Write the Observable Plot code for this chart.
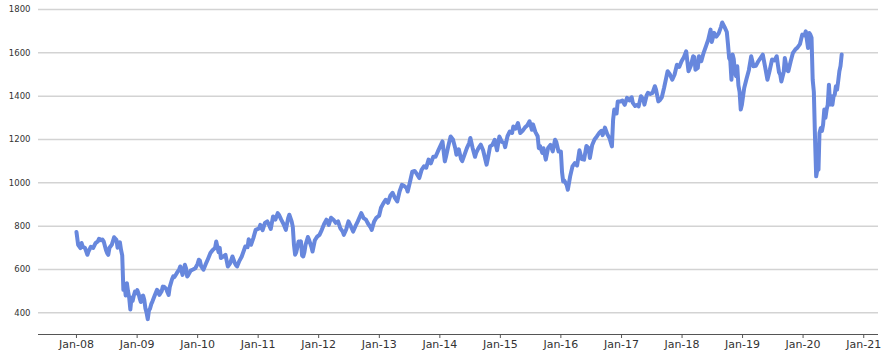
<!DOCTYPE html>
<html>
<head>
<meta charset="utf-8">
<script src="https://cdn.jsdelivr.net/npm/d3@7"></script>
<script src="https://cdn.jsdelivr.net/npm/@observablehq/plot@0.6"></script>
<style>
  html, body { margin: 0; padding: 0; background: #ffffff; }
  #chart svg { display: block; font-family: "DejaVu Sans", sans-serif; }
</style>
</head>
<body>
<div id="chart"></div>
<script>
const dates = [
"2008-01-01","2008-01-11","2008-01-25","2008-02-01","2008-02-08","2008-02-22","2008-03-07","2008-03-14","2008-03-28","2008-04-11","2008-04-25","2008-05-09","2008-05-16","2008-05-30","2008-06-06","2008-06-13","2008-06-27","2008-07-04","2008-07-11","2008-07-18","2008-08-01","2008-08-15","2008-08-29","2008-09-05","2008-09-19","2008-09-26","2008-10-03","2008-10-10","2008-10-17","2008-10-24","2008-10-31","2008-11-07","2008-11-14","2008-11-21","2008-11-28","2008-12-05","2008-12-12","2008-12-19","2008-12-26",
"2009-01-02","2009-01-09","2009-01-16","2009-01-23","2009-01-30","2009-02-06","2009-02-13","2009-02-20","2009-02-27","2009-03-06","2009-03-13","2009-03-20","2009-03-27","2009-04-03","2009-04-17","2009-05-01","2009-05-08","2009-05-15","2009-05-29","2009-06-05","2009-06-12","2009-06-26","2009-07-03","2009-07-10","2009-07-17","2009-07-31","2009-08-07","2009-08-14","2009-08-28","2009-09-11","2009-09-18","2009-09-25","2009-10-02","2009-10-16","2009-10-23","2009-10-30","2009-11-06","2009-11-20","2009-12-04","2009-12-18","2009-12-31",
"2010-01-08","2010-01-15","2010-01-22","2010-02-05","2010-02-19","2010-03-05","2010-03-19","2010-04-02","2010-04-16","2010-04-23","2010-05-07","2010-05-14","2010-05-21","2010-06-04","2010-06-18","2010-07-02","2010-07-16","2010-07-30","2010-08-13","2010-08-20","2010-08-27","2010-09-10","2010-09-24","2010-10-08","2010-10-15","2010-10-29","2010-11-05","2010-11-19","2010-12-03","2010-12-17",
"2011-01-07","2011-01-14","2011-01-28","2011-02-11","2011-02-25","2011-03-11","2011-03-18","2011-04-01","2011-04-15","2011-04-29","2011-05-06","2011-05-20","2011-06-03","2011-06-17","2011-07-01","2011-07-08","2011-07-22","2011-07-29","2011-08-05","2011-08-12","2011-08-19","2011-08-26","2011-09-02","2011-09-09","2011-09-16","2011-09-23","2011-09-30","2011-10-07","2011-10-14","2011-10-28","2011-11-04","2011-11-18","2011-11-25","2011-12-09","2011-12-23",
"2012-01-06","2012-01-20","2012-02-03","2012-02-17","2012-03-02","2012-03-16","2012-03-30","2012-04-13","2012-04-27","2012-05-11","2012-05-25","2012-06-01","2012-06-15","2012-06-29","2012-07-13","2012-07-27","2012-08-10","2012-08-24","2012-09-14","2012-09-28","2012-10-12","2012-10-26","2012-11-09","2012-11-16","2012-11-30","2012-12-14","2012-12-31",
"2013-01-11","2013-01-25","2013-02-08","2013-02-22","2013-03-08","2013-03-22","2013-04-05","2013-04-19","2013-05-03","2013-05-17","2013-05-31","2013-06-14","2013-06-21","2013-07-05","2013-07-19","2013-08-02","2013-08-16","2013-08-30","2013-09-13","2013-09-27","2013-10-11","2013-10-25","2013-11-08","2013-11-22","2013-12-06","2013-12-20",
"2014-01-03","2014-01-17","2014-01-31","2014-02-07","2014-02-21","2014-03-07","2014-03-21","2014-04-04","2014-04-11","2014-04-25","2014-05-09","2014-05-16","2014-05-30","2014-06-13","2014-06-27","2014-07-04","2014-07-18","2014-08-01","2014-08-08","2014-08-22","2014-09-05","2014-09-19","2014-10-03","2014-10-10","2014-10-17","2014-10-31","2014-11-14","2014-11-28","2014-12-12","2014-12-26",
"2015-01-09","2015-01-23","2015-01-30","2015-02-13","2015-02-27","2015-03-13","2015-03-20","2015-04-03","2015-04-17","2015-05-01","2015-05-15","2015-05-29","2015-06-12","2015-06-26","2015-07-10","2015-07-17","2015-07-31","2015-08-14","2015-08-21","2015-08-28","2015-09-11","2015-09-18","2015-10-02","2015-10-16","2015-10-30","2015-11-13","2015-11-27","2015-12-04","2015-12-18",
"2016-01-01","2016-01-08","2016-01-15","2016-01-22","2016-02-05","2016-02-12","2016-02-26","2016-03-11","2016-03-25","2016-04-08","2016-04-22","2016-05-06","2016-05-20","2016-06-03","2016-06-17","2016-06-24","2016-07-08","2016-07-22","2016-08-05","2016-08-19","2016-09-02","2016-09-09","2016-09-23","2016-10-07","2016-10-21","2016-11-04","2016-11-11","2016-11-18","2016-12-02","2016-12-09","2016-12-23",
"2017-01-06","2017-01-20","2017-02-03","2017-02-17","2017-03-03","2017-03-10","2017-03-24","2017-04-07","2017-04-14","2017-04-28","2017-05-12","2017-05-19","2017-06-02","2017-06-09","2017-06-23","2017-07-07","2017-07-21","2017-07-28","2017-08-11","2017-08-18","2017-09-01","2017-09-15","2017-09-29","2017-10-06","2017-10-20","2017-11-03","2017-11-17","2017-12-01","2017-12-15","2017-12-29",
"2018-01-12","2018-01-26","2018-02-02","2018-02-09","2018-02-23","2018-03-09","2018-03-16","2018-03-23","2018-04-06","2018-04-13","2018-04-27","2018-05-11","2018-05-25","2018-06-08","2018-06-22","2018-06-29","2018-07-06","2018-07-13","2018-07-27","2018-08-10","2018-08-24","2018-08-31","2018-09-14","2018-09-28","2018-10-05","2018-10-12","2018-10-19","2018-10-26","2018-11-02","2018-11-09","2018-11-16","2018-11-23","2018-11-30","2018-12-07","2018-12-14","2018-12-21","2018-12-28",
"2019-01-04","2019-01-11","2019-01-25","2019-02-08","2019-02-22","2019-03-08","2019-03-22","2019-04-05","2019-04-19","2019-05-03","2019-05-17","2019-05-31","2019-06-14","2019-06-28","2019-07-12","2019-07-26","2019-08-02","2019-08-09","2019-08-16","2019-08-23","2019-09-06","2019-09-13","2019-09-27","2019-10-04","2019-10-18","2019-11-01","2019-11-15","2019-11-29","2019-12-13","2019-12-27",
"2020-01-10","2020-01-17","2020-01-24","2020-01-31","2020-02-07","2020-02-14","2020-02-21","2020-02-28","2020-03-06","2020-03-13","2020-03-20","2020-03-27","2020-04-03","2020-04-09","2020-04-17","2020-04-24","2020-05-01","2020-05-08","2020-05-15","2020-05-22","2020-05-29","2020-06-05","2020-06-12","2020-06-19","2020-06-26","2020-07-03","2020-07-10","2020-07-17","2020-07-24","2020-07-31","2020-08-07","2020-08-14","2020-08-21"
];

const values = [
773,714,699,722,705,699,668,684,705,700,722,730,742,735,738,730,690,676,668,700,714,749,737,700,725,690,665,506,530,480,537,500,470,415,470,455,480,498,490,
505,490,468,450,475,480,460,420,400,371,410,420,440,452,480,506,500,483,500,521,520,510,495,483,520,556,568,565,583,600,614,595,575,622,605,568,575,595,600,606,625,
645,640,615,599,625,650,676,690,699,729,680,700,653,660,668,614,629,660,630,620,614,640,660,690,706,703,740,714,745,783,
790,806,782,815,822,800,787,845,830,860,853,830,810,783,837,853,822,797,714,668,680,705,729,715,730,665,660,680,714,750,737,705,683,735,752,
760,783,810,830,806,839,830,815,822,790,775,760,785,822,800,775,800,822,860,837,830,810,795,783,820,839,849,
885,905,922,908,940,954,930,914,960,991,985,976,960,1005,1052,1055,1040,1022,1060,1076,1070,1107,1090,1120,1120,1145,
1168,1191,1099,1120,1170,1214,1200,1160,1130,1155,1110,1100,1130,1160,1184,1207,1160,1120,1138,1160,1176,1150,1105,1084,1110,1168,1175,1199,1150,1214,
1190,1184,1165,1215,1237,1230,1260,1250,1276,1230,1240,1255,1265,1284,1245,1270,1235,1215,1160,1170,1138,1160,1107,1161,1175,1145,1199,1190,1145,
1145,1050,1006,1010,990,968,1030,1076,1091,1080,1150,1110,1107,1170,1160,1115,1175,1200,1214,1230,1240,1220,1255,1225,1205,1168,1290,1338,1320,1375,1375,
1380,1360,1392,1380,1395,1369,1355,1360,1353,1400,1385,1361,1405,1415,1410,1415,1446,1430,1376,1380,1395,1440,1490,1515,1500,1476,1500,1545,1535,1561,
1580,1607,1560,1515,1540,1584,1580,1522,1530,1584,1561,1600,1630,1661,1707,1650,1670,1692,1675,1690,1720,1740,1720,1696,1640,1576,1565,1476,1592,1570,1510,1492,1538,1450,1420,1338,1360,
1400,1438,1480,1520,1584,1538,1540,1560,1576,1592,1535,1476,1520,1569,1565,1584,1545,1510,1500,1468,1510,1576,1520,1515,1560,1600,1615,1625,1640,1684,
1680,1699,1660,1622,1692,1684,1670,1476,1420,1210,1030,1061,1061,1230,1253,1240,1270,1338,1300,1338,1361,1453,1361,1400,1360,1400,1407,1446,1430,1470,1515,1540,1592
];

const yTicks = [400, 600, 800, 1000, 1200, 1400, 1600, 1800];
const xTickDates = ["2008-01-01","2009-01-01","2010-01-01","2011-01-01","2012-01-01","2013-01-01","2014-01-01","2015-01-01","2016-01-01","2017-01-01","2018-01-01","2019-01-01","2020-01-01","2021-01-01"];
const xTickLabels = ["Jan-08","Jan-09","Jan-10","Jan-11","Jan-12","Jan-13","Jan-14","Jan-15","Jan-16","Jan-17","Jan-18","Jan-19","Jan-20","Jan-21"];

const data = dates.map((d, i) => ({date: new Date(d + "T00:00:00Z"), value: values[i]}));
const xTicks = xTickDates.map(d => new Date(d + "T00:00:00Z"));
const labelFor = new Map(xTicks.map((d, i) => [+d, xTickLabels[i]]));

const chart = Plot.plot({
  width: 888,
  height: 356,
  marginTop: 9,
  marginBottom: 22,
  marginLeft: 38,
  marginRight: 10,
  style: {fontFamily: "DejaVu Sans, sans-serif", color: "#333", background: "#fff"},
  x: {type: "utc", domain: [new Date("2007-05-17T00:00:00Z"), new Date("2021-03-31T00:00:00Z")]},
  y: {domain: [300, 1800]},
  marks: [
    Plot.gridY(yTicks, {stroke: "#d3d3d3", strokeOpacity: 1, strokeWidth: 1.5}),
    Plot.ruleY([300], {stroke: "#555", strokeWidth: 1}),
    Plot.axisY({ticks: yTicks, tickFormat: d => String(d), tickSize: 0, tickPadding: 8, fontSize: 8.5, label: null}),
    Plot.axisX({ticks: xTicks, tickFormat: d => labelFor.get(+d), tickSize: 4, tickPadding: 2, fontSize: 11, label: null, stroke: "#555"}),
    Plot.lineY(data, {x: "date", y: "value", stroke: "#6787dd", strokeWidth: 4, strokeLinejoin: "round", strokeLinecap: "round"})
  ]
});
document.getElementById("chart").appendChild(chart);
</script>
</body>
</html>
